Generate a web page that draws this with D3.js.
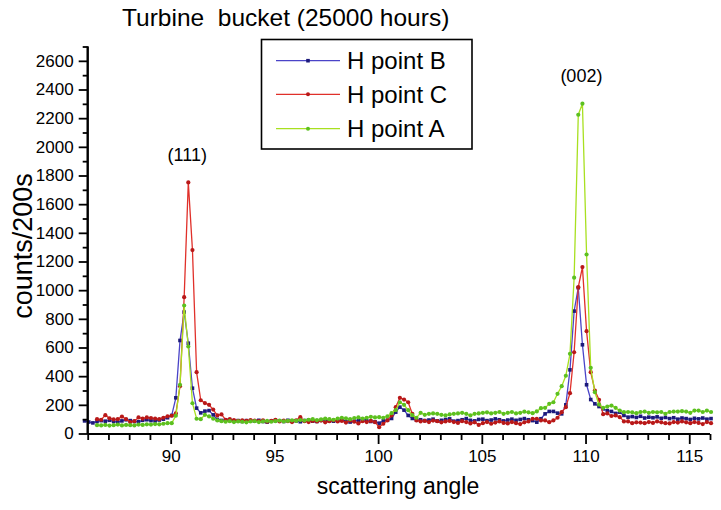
<!DOCTYPE html>
<html>
<head>
<meta charset="utf-8">
<script src="https://cdn.jsdelivr.net/npm/d3@7"></script>
<style>
  html, body { margin: 0; padding: 0; background: #fff; }
  svg { display: block; }
  text { font-family: "Liberation Sans", Arial, sans-serif; fill: #000; }
</style>
</head>
<body>
<svg id="chart" width="721" height="510"></svg>
<script>
// ---------------- data ----------------
const titleText = "Turbine\u00a0 bucket (25000 hours)";
const xLabel = "scattering angle";
const yLabel = "counts/200s";
const xMajorTicks = [90, 95, 100, 105, 110, 115];
const xMinorTicks = [86, 87, 88, 89, 91, 92, 93, 94, 96, 97, 98, 99, 101, 102, 103, 104, 106, 107, 108, 109, 111, 112, 113, 114, 116];
const yMajorTicks = [0, 200, 400, 600, 800, 1000, 1200, 1400, 1600, 1800, 2000, 2200, 2400, 2600];
const yMinorTicks = [100, 300, 500, 700, 900, 1100, 1300, 1500, 1700, 1900, 2100, 2300, 2500, 2700];
const seriesNames = ["H point B", "H point C", "H point A"];
const peakLabels = ["(111)", "(002)"];
const peakLabelAngles = [90.8, 109.8];
const peakLabelValues = [1900, 2450];

const angles = [
85.85,86.05,86.25,86.45,86.65,86.85,87.05,87.25,87.45,87.65,
87.85,88.05,88.25,88.45,88.65,88.85,89.05,89.25,89.45,89.65,
89.85,90.05,90.25,90.45,90.65,90.85,91.05,91.25,91.45,91.65,
91.85,92.05,92.25,92.45,92.65,92.85,93.05,93.25,93.45,93.65,
93.85,94.05,94.25,94.45,94.65,94.85,95.05,95.25,95.45,95.65,
95.85,96.05,96.25,96.45,96.65,96.85,97.05,97.25,97.45,97.65,
97.85,98.05,98.25,98.45,98.65,98.85,99.05,99.25,99.45,99.65,
99.85,100.05,100.25,100.45,100.65,100.85,101.05,101.25,101.45,101.65,
101.85,102.05,102.25,102.45,102.65,102.85,103.05,103.25,103.45,103.65,
103.85,104.05,104.25,104.45,104.65,104.85,105.05,105.25,105.45,105.65,
105.85,106.05,106.25,106.45,106.65,106.85,107.05,107.25,107.45,107.65,
107.85,108.05,108.25,108.45,108.65,108.85,109.05,109.25,109.45,109.65,
109.85,110.05,110.25,110.45,110.65,110.85,111.05,111.25,111.45,111.65,
111.85,112.05,112.25,112.45,112.65,112.85,113.05,113.25,113.45,113.65,
113.85,114.05,114.25,114.45,114.65,114.85,115.05,115.25,115.45,115.65,
115.85,116.05
];

const pointB = [
88, 80, 74, 84, 90, 86, 92, 84, 80, 88,
96, 90, 84, 82, 92, 96, 90, 88, 94, 100, 110,
126, 249, 649, 847, 630, 316, 177, 144, 156, 160, 130, 98, 91,
95, 91, 86, 90, 84, 90, 86, 88, 92, 84, 80, 86, 90, 88, 84, 92, 86,
88, 82, 90, 94, 86, 84, 92, 96, 88, 86, 90, 94, 84, 80, 86, 92, 98, 90, 84, 82,
72, 88, 93, 105, 149, 184, 163, 126, 105, 93,
96, 90, 94, 100, 88, 92, 98, 102, 86, 90, 96, 104, 92, 88, 98, 100, 90, 94, 102, 96, 88, 94, 100, 92, 98, 104, 96,
90, 79, 103, 137, 154, 154, 142, 137, 200, 444, 854, 1017, 619, 340, 237, 207, 188, 172, 160, 154, 140,
149, 126, 114, 118, 112, 120, 108, 114, 110, 116, 106, 112, 104, 110, 100, 108, 104, 98, 106, 102, 108, 100, 104
];

const pointC = [
null, null, null,
100, 96, 128, 106, 98, 100, 118, 100, 80, 86, 112, 104, 112, 108, 104, 100, 110, 120,
124, 140, 330, 951, 1752, 1280, 428, 232, 212, 200, 167, 126, 133,
96, 100, 94, 89, 92, 89, 94, 90, 86, 92, 82, 88, 96, 84, 90, 86, 80,
92, 114, 86, 80, 88, 84, 90, 78, 86, 92, 84, 88, 76, 90, 82, 70, 86, 80, 88, 79,
44, 68, 91, 126, 184, 249, 237, 218, 137, 91,
84, 88, 80, 90, 86, 78, 84, 88, 80, 74, 86, 80, 70, 78, 60, 72, 80, 68, 76, 84, 74, 70, 80, 72, 66, 78, 84,
103, 103, 91, 91, 79, 91, 110, 149, 184, 281, 567, 1021, 1161, 714, 428, 300, 235, 135, 140, 122, 126,
114, 84, 84, 72, 78, 76, 72, 80, 74, 84, 78, 72, 70, 80, 76, 84, 78, 72, 80, 74, 66, 80, 72
];

const pointA = [
null, null, null,
58, 56, 60, 55, 58, 62, 56, 60, 58, 56, 62, 60, 64, 62, 66, 64, 68, 72,
72, 124, 340, 893, 607, 211, 103, 100, 130, 119, 103, 91, 86,
82, 86, 80, 84, 82, 78, 84, 86, 80, 84, 88, 82, 86, 90, 84, 88, 92,
88, 94, 90, 96, 100, 94, 98, 104, 100, 96, 104, 110, 106, 100, 108, 112, 104, 110, 116, 112,
114, 110, 120, 142, 163, 218, 200, 163, 128, 110,
144, 130, 137, 140, 137, 130, 126, 133, 137, 140, 144, 137, 126, 137, 140, 144, 148, 140, 144, 150, 137, 144, 150, 140, 144, 152, 148,
142, 154, 177, 179, 207, 218, 277, 330, 403, 556, 1087, 2224, 2301, 1249, 458, 288, 202, 179, 188, 195, 179,
160, 149, 150, 148, 142, 150, 153, 144, 150, 148, 150, 137, 150, 153, 153, 156, 153, 144, 160, 160, 150, 160, 150
];

// ---------------- styles ----------------
const styles = [
  { values: pointB, line: "#4a44c8", marker: "#1c1a7a", shape: "square" },
  { values: pointC, line: "#e0302a", marker: "#b81818", shape: "circle" },
  { values: pointA, line: "#a8e020", marker: "#5cc020", shape: "circle" }
];

const svg = d3.select("#chart");
const x = d3.scaleLinear().domain([86, 116]).range([87.7, 710]);
const y = d3.scaleLinear().domain([0, 2700]).range([433.5, 46.5]);
const axisY = 434;

// title
svg.append("text").attr("x", 122).attr("y", 26)
  .attr("font-size", 24.5).text(titleText);

// series
styles.forEach(s => {
  const pts = angles.map((a, i) => ({ a, v: s.values[i] })).filter(d => d.v != null);
  svg.append("path").datum(pts)
    .attr("fill", "none").attr("stroke", s.line).attr("stroke-width", 1.3)
    .attr("d", d3.line().x(d => x(d.a)).y(d => y(d.v)));
  const g = svg.append("g");
  if (s.shape === "square") {
    g.selectAll("rect").data(pts).join("rect")
      .attr("x", d => x(d.a) - 1.8).attr("y", d => y(d.v) - 1.8)
      .attr("width", 3.6).attr("height", 3.6).attr("fill", s.marker);
  } else {
    g.selectAll("circle").data(pts).join("circle")
      .attr("cx", d => x(d.a)).attr("cy", d => y(d.v)).attr("r", 2.1)
      .attr("fill", s.marker);
  }
});

// axes
const xMinor = svg.append("g").attr("transform", `translate(0,${axisY})`)
  .call(d3.axisBottom(x).tickValues(xMinorTicks).tickSize(6).tickSizeOuter(0).tickFormat(""));
const xMajor = svg.append("g").attr("transform", `translate(0,${axisY})`)
  .call(d3.axisBottom(x).tickValues(xMajorTicks).tickSize(10).tickSizeOuter(0).tickPadding(6).tickFormat(d3.format("d")));
const yMinor = svg.append("g").attr("transform", `translate(${x(86)},0)`)
  .call(d3.axisLeft(y).tickValues(yMinorTicks).tickSize(5).tickSizeOuter(0).tickFormat(""));
const yMajor = svg.append("g").attr("transform", `translate(${x(86)},0)`)
  .call(d3.axisLeft(y).tickValues(yMajorTicks).tickSize(9).tickSizeOuter(0).tickPadding(5).tickFormat(d3.format("d")));

[xMinor, xMajor, yMinor, yMajor].forEach(g => {
  g.selectAll("path.domain").attr("stroke", "#000").attr("stroke-width", 2);
  g.selectAll(".tick line").attr("stroke", "#000").attr("stroke-width", 1.8);
  g.selectAll(".tick text").attr("font-size", 17).attr("font-family", "Liberation Sans, Arial, sans-serif").attr("fill", "#000");
});
xMinor.select("path.domain").attr("d", `M${x(86)},0H${x(116)}`);
xMajor.select("path.domain").attr("d", `M${x(86)},0H${x(116)}`);
yMajor.select("path.domain").attr("d", `M0,${axisY}V${y(2700)}`);
yMinor.select("path.domain").attr("d", `M0,${axisY}V${y(2700)}`);

// axis titles
svg.append("text").attr("x", 398).attr("y", 494).attr("text-anchor", "middle")
  .attr("font-size", 23).text(xLabel);
svg.append("text").attr("transform", "translate(32,246) rotate(-90)")
  .attr("text-anchor", "middle").attr("font-size", 27).text(yLabel);

// peak labels
peakLabels.forEach((t, i) => {
  svg.append("text").attr("x", x(peakLabelAngles[i])).attr("y", y(peakLabelValues[i]))
    .attr("text-anchor", "middle").attr("font-size", 18).text(t);
});

// legend
const lg = svg.append("g");
lg.append("rect").attr("x", 261.5).attr("y", 39.5).attr("width", 210.5).attr("height", 109.5)
  .attr("fill", "#fff").attr("stroke", "#000").attr("stroke-width", 1.6);
const rowY = [60.7, 94.3, 128.7];
styles.forEach((s, i) => {
  lg.append("line").attr("x1", 276).attr("x2", 340).attr("y1", rowY[i]).attr("y2", rowY[i])
    .attr("stroke", s.line).attr("stroke-width", 1.2);
  if (s.shape === "square") {
    lg.append("rect").attr("x", 308 - 1.8).attr("y", rowY[i] - 1.8).attr("width", 3.6).attr("height", 3.6).attr("fill", s.marker);
  } else {
    lg.append("circle").attr("cx", 308).attr("cy", rowY[i]).attr("r", 2).attr("fill", s.marker);
  }
  lg.append("text").attr("x", 347).attr("y", rowY[i] + 8.6).attr("font-size", 24).text(seriesNames[i]);
});
</script>
</body>
</html>
